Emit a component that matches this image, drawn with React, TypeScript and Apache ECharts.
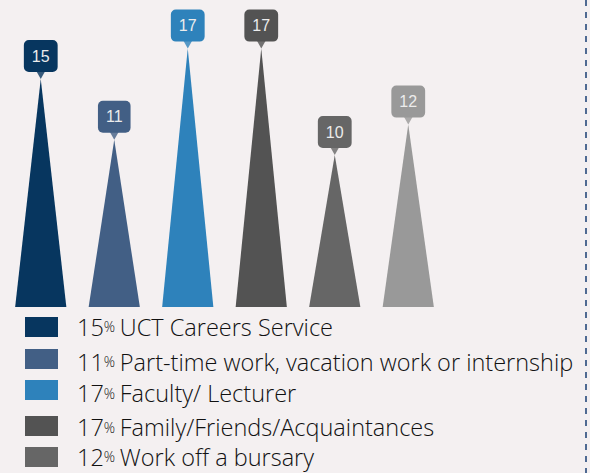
import { useEffect, useRef } from "react";
import * as echarts from "echarts";

const categories = [
  "UCT Careers Service",
  "Part-time work",
  "Faculty/ Lecturer",
  "Family/Friends",
  "Bursary",
  "Other",
];
const values = [15, 11, 17, 17, 10, 12];
const barColors = ["#07365f", "#425f85", "#2e82bb", "#535353", "#666666", "#999999"];

const legendPercents = ["15", "11", "17", "17", "12"];
const legendLabels = [
  "UCT Careers Service",
  "Part-time work, vacation work or internship",
  "Faculty/ Lecturer",
  "Family/Friends/Acquaintances",
  "Work off a bursary",
];
const legendColors = ["#07365f", "#425f85", "#2e82bb", "#535353", "#666666"];

export default function App() {
  const ref = useRef<HTMLDivElement>(null);

  useEffect(() => {
    if (!ref.current) return;
    const chart = echarts.init(ref.current, undefined, { renderer: "svg" });

    const squareTops = [317, 349, 380, 416, 447];
    const textMid = [326.5, 361.5, 393, 427, 456.5];

    const legendGraphics: any[] = [];
    legendLabels.forEach((label, i) => {
      legendGraphics.push({
        type: "rect",
        left: 25,
        top: squareTops[i],
        shape: { width: 33, height: 20 },
        style: { fill: legendColors[i] },
        silent: true,
      });
      legendGraphics.push({
        type: "text",
        x: 77,
        y: textMid[i],
        silent: true,
        style: {
          text: `{n|${legendPercents[i]}}{p|%}{s| }{n|${label}}`,
          verticalAlign: "middle",
          rich: {
            n: { fontFamily: "Open Sans", fontWeight: 300, fontSize: 23.5, fill: "#111111" },
            p: { fontFamily: "Open Sans", fontWeight: 300, fontSize: 14, fill: "#111111" },
            s: { fontFamily: "Open Sans", fontSize: 18, fill: "#111111" },
          },
        },
      });
    });

    chart.setOption({
      animation: false,
      backgroundColor: "#f4f0f1",
      grid: { left: 4, width: 441, top: 3, bottom: 166 },
      xAxis: {
        type: "category",
        data: categories,
        show: false,
      },
      yAxis: { type: "value", min: 0, max: 20, show: false },
      series: [
        {
          type: "pictorialBar",
          symbol: "triangle",
          symbolSize: [51, "100%"],
          data: values.map((v, i) => ({ value: v, itemStyle: { color: barColors[i] } })),
          label: {
            show: true,
            position: "top",
            distance: 7,
            formatter: "{c}",
            padding: [8, 8, 8, 8],
            lineHeight: 16,
            borderRadius: 5,
            color: "#ececec",
            fontSize: 16,
            fontFamily: "Liberation Sans, Arial, sans-serif",
            backgroundColor: "inherit",
          },
          z: 2,
        },
        {
          type: "scatter",
          symbol: "triangle",
          symbolRotate: 180,
          symbolSize: [9, 8],
          symbolOffset: [0, -4],
          data: values.map((v, i) => ({ value: v, itemStyle: { color: barColors[i] } })),
          silent: true,
          z: 3,
        },
      ],
      graphic: [
        {
          type: "line",
          shape: { x1: 586, y1: 0, x2: 586, y2: 473 },
          style: { stroke: "#4f6a92", lineWidth: 2, lineDash: [6, 6] },
          silent: true,
        },
        ...legendGraphics,
      ],
    });

    return () => chart.dispose();
  }, []);

  return (
    <div
      ref={ref}
      style={{ position: "fixed", left: 0, top: 0, width: 590, height: 473 }}
    />
  );
}
